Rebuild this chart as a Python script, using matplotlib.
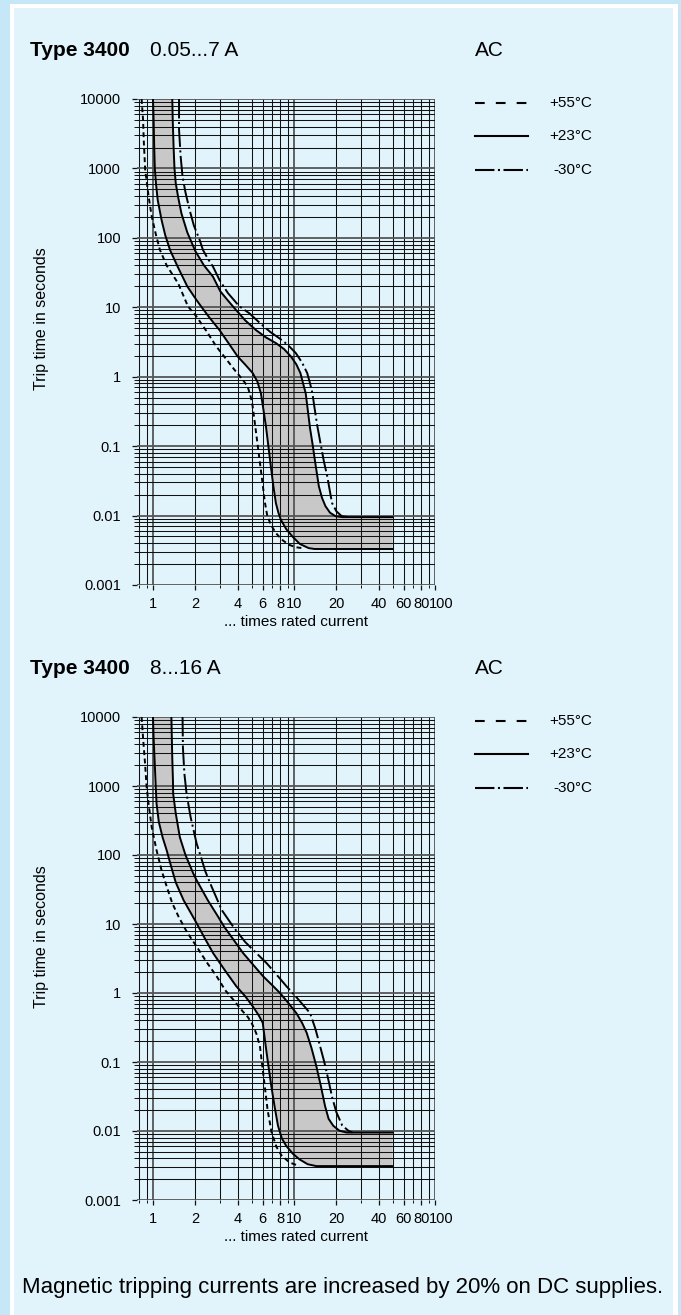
import numpy as np
import matplotlib
matplotlib.use("Agg")
import matplotlib.pyplot as plt
import matplotlib.transforms as mtransforms
from matplotlib.patches import Rectangle
from matplotlib.lines import Line2D

plt.rcParams['font.family'] = ['Liberation Sans', 'DejaVu Sans']
plt.rcParams['lines.scale_dashes'] = False

# ---- data: (times rated current, trip time s) ----
# Type 3400 0.05...7 A
top_23_lo_I = [1.00, 1.01, 1.02, 1.03, 1.05, 1.08, 1.15, 1.22, 1.32, 1.50, 1.75, 2.03, 2.20, 2.50, 2.96, 3.45, 3.98,
               4.50, 5.09, 5.50, 5.82, 6.05, 6.33, 6.60, 6.85, 7.15, 7.44, 7.75, 8.07, 8.80, 9.74, 11.0, 12.7, 14.0, 50]
top_23_lo_t = [10000, 5000, 2000, 1000, 600, 350, 181, 110, 67, 38, 20, 12.8, 10.2, 7.2, 4.7, 3.0, 1.96,
               1.5, 1.13, 0.85, 0.58, 0.35, 0.19, 0.095, 0.051, 0.026, 0.0151, 0.011, 0.0087, 0.0064, 0.005, 0.0039, 0.0034, 0.0033, 0.0033]
top_23_hi_I = [1.37, 1.38, 1.40, 1.42, 1.45, 1.51, 1.59, 1.75, 2.00, 2.30, 2.66, 3.00, 3.40, 3.80, 4.50, 5.37, 6.30,
               7.44, 8.50, 9.50, 10.4, 11.1, 11.6, 12.1, 12.6, 13.0, 13.5, 14.2, 15.0, 15.8, 16.7, 18.0, 19.7, 22.0, 50]
top_23_hi_t = [10000, 5000, 2000, 1000, 610, 380, 226, 120, 64, 40, 27.7, 17, 12.5, 9.6, 6.5, 4.7, 3.7,
               3.05, 2.5, 1.96, 1.5, 1.13, 0.8, 0.58, 0.3, 0.18, 0.111, 0.055, 0.0265, 0.018, 0.0137, 0.011, 0.0098, 0.0095, 0.0095]
top_55_I = [0.83, 0.85, 0.86, 0.88, 0.93, 0.98, 1.05, 1.12, 1.25, 1.51, 1.77, 2.03, 2.40, 2.81, 3.30, 3.78, 4.30,
            4.69, 4.95, 5.09, 5.30, 5.50, 5.75, 5.98, 6.20, 6.47, 6.90, 7.44, 8.20, 9.20, 10.3, 11.4]
top_55_t = [10000, 5000, 2500, 960, 400, 202, 110, 67, 40, 22, 10.3, 7.4, 4.5, 2.73, 1.8, 1.26, 0.92,
            0.725, 0.5, 0.374, 0.2, 0.111, 0.055, 0.0295, 0.016, 0.0098, 0.0072, 0.0056, 0.0045, 0.0038, 0.0035, 0.0034]
top_m30_I = [1.53, 1.53, 1.57, 1.62, 1.70, 1.82, 1.95, 2.14, 2.26, 2.45, 2.66, 2.96, 3.40, 4.10, 4.82, 5.80, 6.80,
             7.84, 9.00, 10.3, 11.4, 12.4, 13.0, 13.5, 14.0, 14.6, 15.4, 16.3, 17.2, 18.0, 18.6, 20.0, 21.8, 24.4]
top_m30_t = [10000, 3600, 1500, 760, 450, 250, 150, 94, 67, 50, 38.7, 24.8, 16, 10.3, 8.2, 5.8, 4.4,
             3.6, 2.9, 2.19, 1.6, 1.13, 0.8, 0.58, 0.35, 0.2, 0.111, 0.06, 0.037, 0.022, 0.0152, 0.0115, 0.0098, 0.0095]

# Type 3400 8...16 A
bot_23_lo_I = [1.00, 1.01, 1.03, 1.045, 1.06, 1.10, 1.17, 1.25, 1.34, 1.45, 1.65, 2.00, 2.30, 2.67, 3.20, 3.90,
               4.50, 5.10, 5.60, 6.00, 6.15, 6.30, 6.60, 6.90, 7.30, 7.70, 8.20, 8.80, 9.80, 10.9, 12.5, 14.4, 50]
bot_23_lo_t = [10000, 5000, 2000, 1000, 550, 300, 180, 117, 70, 40, 22, 11, 6.5, 3.78, 2.2, 1.25,
               0.9, 0.64, 0.48, 0.37, 0.25, 0.17, 0.085, 0.045, 0.022, 0.0119, 0.0078, 0.0061, 0.0047, 0.0039, 0.0033, 0.0031, 0.0031]
bot_23_hi_I = [1.35, 1.36, 1.37, 1.385, 1.39, 1.45, 1.55, 1.70, 1.93, 2.04, 2.45, 2.90, 3.20, 4.36, 5.10, 6.05, 7.00,
               7.95, 9.10, 10.4, 11.4, 12.3, 13.3, 14.4, 15.5, 16.6, 17.6, 19.0, 21.0, 23.6, 50]
bot_23_hi_t = [10000, 5000, 2500, 1200, 770, 400, 181, 100, 54, 43, 22, 12.7, 9.1, 3.78, 2.6, 1.74, 1.3,
               1.0, 0.72, 0.51, 0.37, 0.265, 0.16, 0.087, 0.045, 0.023, 0.015, 0.0119, 0.0101, 0.0095, 0.0095]
bot_55_I = [0.83, 0.85, 0.88, 0.90, 0.93, 0.98, 1.06, 1.15, 1.25, 1.37, 1.52, 1.75, 2.04, 2.40, 2.83, 3.25, 3.71,
            4.30, 4.70, 5.00, 5.40, 5.73, 5.95, 6.20, 6.50, 6.94, 7.50, 8.17, 9.30, 10.9]
bot_55_t = [10000, 5000, 2000, 1000, 550, 250, 117, 60, 35, 20, 12.7, 7.5, 4.7, 2.8, 1.74, 1.1, 0.8,
            0.55, 0.45, 0.37, 0.26, 0.17, 0.09, 0.045, 0.02, 0.0095, 0.0059, 0.0044, 0.0035, 0.0031]
bot_m30_I = [1.62, 1.63, 1.67, 1.73, 1.85, 2.04, 2.20, 2.35, 2.60, 3.07, 3.71, 4.50, 5.40, 6.40, 7.60, 8.85, 10.5,
             12.0, 13.0, 14.2, 15.3, 16.4, 17.5, 18.7, 20.0, 22.0, 24.3, 26.0]
bot_m30_t = [10000, 3600, 1500, 770, 350, 146, 90, 58, 35, 16, 9.1, 5.5, 3.8, 2.7, 1.8, 1.25, 0.85,
             0.62, 0.51, 0.3, 0.17, 0.1, 0.056, 0.03, 0.0186, 0.012, 0.0101, 0.0095]

titles = [("Type 3400", "0.05...7 A", "AC"), ("Type 3400", "8...16 A", "AC")]
legend_labels = ["+55°C", "+23°C", "-30°C"]
y_ticks = [1e-3, 1e-2, 1e-1, 1, 10, 100, 1000, 10000]
y_ticklabels = ["0.001", "0.01", "0.1", "1", "10", "100", "1000", "10000"]
x_ticks = [1, 2, 4, 6, 8, 10, 20, 40, 60, 80, 100]
x_ticklabels = ["1", "2", "4", "6", "8", "10", "20", "40", "60", "80", "100"]
x_grid = [0.8, 0.9, 1, 2, 3, 4, 5, 6, 7, 8, 9, 10, 20, 30, 40, 50, 60, 70, 80, 90, 100]
footer = "Magnetic tripping currents are increased by 20% on DC supplies."

W, H = 681, 1315
fig = plt.figure(figsize=(W / 100, H / 100), dpi=100)
fig.patch.set_facecolor('#c6e7f8')
fig.add_artist(Rectangle((10 / W, 0), 668 / W, (H - 4) / H, transform=fig.transFigure,
                         facecolor='white', edgecolor='none', zorder=-5))
fig.add_artist(Rectangle((14 / W, 0), 659 / W, (H - 8) / H, transform=fig.transFigure,
                         facecolor='#e1f3fb', edgecolor='none', zorder=-4))

BAND = '#c8c8c8'


def fx(px):
    return px / W


def fy(py):
    return 1 - py / H


def chart(top_px, bot_px, lo, hi, d55, dm30, title):
    ax = fig.add_axes([fx(137), fy(bot_px), fx(435) - fx(137), fy(top_px) - fy(bot_px)])
    ax.set_facecolor('none')
    ax.set_xscale('log')
    ax.set_yscale('log')
    ax.set_xlim(0.77, 100)
    ax.set_ylim(1e-3, 1e4)
    for s in ax.spines.values():
        s.set_visible(False)

    # grid
    for v in x_grid:
        dec = v in (1, 10, 100)
        ax.axvline(v, color='#555555' if dec else '#111111', lw=1.3 if dec else 0.75, zorder=2)
    for e in range(-3, 4):
        for m in range(1, 10):
            ax.axhline(m * 10.0 ** e, color='#555555' if m == 1 else '#111111',
                       lw=1.3 if m == 1 else 0.75, zorder=2)
    ax.axhline(1e4, color='#555555', lw=1.3, zorder=2)

    # ticks
    ax.set_yticks(y_ticks)
    ax.set_yticklabels(y_ticklabels)
    ax.set_yticks([m * 10.0 ** e for e in range(-3, 4) for m in range(2, 10)], minor=True)
    ax.set_xticks(x_ticks)
    ax.set_xticklabels(x_ticklabels)
    ax.set_xticks([v for v in x_grid if v not in x_ticks], minor=True)
    ax.xaxis.set_minor_formatter(plt.NullFormatter())
    ax.yaxis.set_minor_formatter(plt.NullFormatter())
    ax.tick_params(which='major', direction='out', length=3.5, width=0.9, labelsize=10.5, color='#111111')
    ax.tick_params(which='minor', direction='out', length=2, width=0.7, color='#111111')
    ax.tick_params(axis='y', which='major', pad=8)
    ax.tick_params(axis='x', which='major', pad=5)
    # the "100" label sits a little right of its tick, as in the original
    lab = ax.xaxis.get_major_ticks()[-1].label1
    lab.set_transform(lab.get_transform() + mtransforms.ScaledTranslation(6 / 100, 0, fig.dpi_scale_trans))

    # grey band between +23 curves
    loI, lot = lo
    hiI, hit = hi
    ax.fill(list(loI) + list(hiI[::-1]), list(lot) + list(hit[::-1]),
            color=BAND, lw=0, zorder=1)
    ax.plot(loI, lot, color='black', lw=1.4, zorder=3, solid_joinstyle='round')
    ax.plot(hiI, hit, color='black', lw=1.4, zorder=3, solid_joinstyle='round')
    ax.plot(d55[0], d55[1], color='black', lw=1.4, dashes=(3.5, 2.5), zorder=3)
    ax.plot(dm30[0], dm30[1], color='black', lw=1.4, dashes=(14, 2.5, 1.5, 2.5), zorder=3)

    # titles
    ty = top_px - 48
    fig.text(fx(30), fy(ty), title[0], fontsize=15, fontweight='bold', va='center', ha='left')
    fig.text(fx(150), fy(ty), title[1], fontsize=15, va='center', ha='left')
    fig.text(fx(475), fy(ty), title[2], fontsize=15, va='center', ha='left')

    # axis labels
    fig.text(fx(42), fy(top_px + 220), "Trip time in seconds", fontsize=11.5,
             rotation=90, va='center', ha='center')
    fig.text(fx(296), fy(bot_px + 37), "... times rated current", fontsize=11,
             va='center', ha='center')

    # legend
    ly = [top_px + 4, top_px + 37, top_px + 71]
    styles = [dict(dashes=(7, 8)), dict(), dict(dashes=(14, 2.5, 1.5, 2.5))]
    for yy, lab_txt, st in zip(ly, legend_labels, styles):
        fig.add_artist(Line2D([fx(475), fx(528)], [fy(yy), fy(yy)], color='black', lw=1.5,
                              transform=fig.transFigure, **st))
        fig.text(fx(592), fy(yy), lab_txt, fontsize=11, va='center', ha='right')
    return ax


chart(99, 585, (top_23_lo_I, top_23_lo_t), (top_23_hi_I, top_23_hi_t),
      (top_55_I, top_55_t), (top_m30_I, top_m30_t), titles[0])
chart(717, 1200, (bot_23_lo_I, bot_23_lo_t), (bot_23_hi_I, bot_23_hi_t),
      (bot_55_I, bot_55_t), (bot_m30_I, bot_m30_t), titles[1])

fig.text(fx(22), fy(1287), footer, fontsize=16, va='center', ha='left')

fig.savefig("out.png", dpi=100, facecolor=fig.get_facecolor())
